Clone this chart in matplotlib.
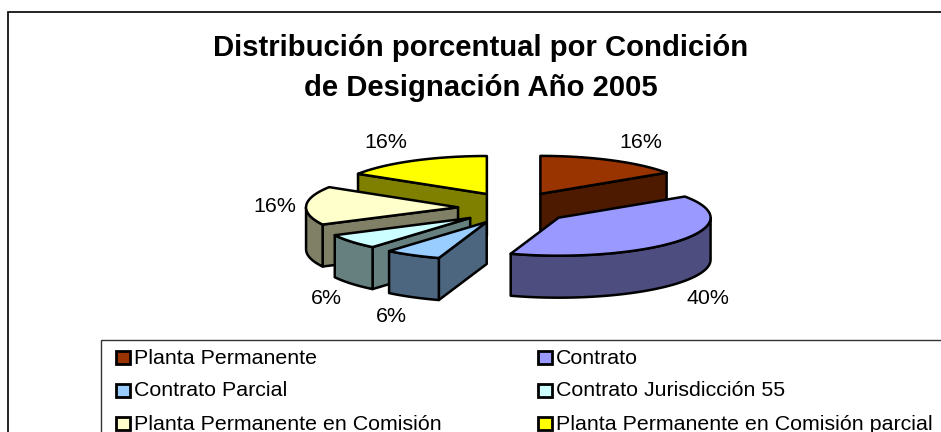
import numpy as np
import matplotlib
matplotlib.use("Agg")
import matplotlib.pyplot as plt
from matplotlib.patches import Polygon, Rectangle
from matplotlib.colors import to_rgb

# ---------- data ----------
categories = ["Planta Permanente", "Contrato", "Contrato Parcial",
              "Contrato Jurisdicción 55", "Planta Permanente en Comisión",
              "Planta Permanente en Comisión parcial"]
values = [15.6, 39.5, 6.0, 6.4, 16.4, 16.1]
colors = ["#993300", "#9999FF", "#99CCFF", "#CCFFFF", "#FFFFCC", "#FFFF00"]
title = "Distribución porcentual por Condición\nde Designación Año 2005"

# ---------- layout (pixels) ----------
W, H = 941, 432
CX, CY = 514, 208      # pie centre
RX, RY = 152, 38       # top ellipse radii
DEPTH = 42             # extrusion
EX, EY = 56, 16        # explosion distance
LABEL_POS = [(641, 143), (708, 298), (391, 317), (326, 299), (275, 206), (386, 143)]
LINE = 1.8
SANS = ["Liberation Sans", "DejaVu Sans"]

fig = plt.figure(figsize=(W / 100, H / 100), dpi=100)
ax = fig.add_axes([0, 0, 1, 1])
ax.set_xlim(0, W)
ax.set_ylim(H, 0)
ax.axis("off")

# chart frame, running off the right and bottom edges
ax.add_patch(Rectangle((8, 12), W + 20, H + 20, fc="white", ec="black", lw=1.2))


def pt(theta, cx, cy, r=1.0):
    return np.column_stack([cx + r * RX * np.sin(theta), cy - r * RY * np.cos(theta)])


total = sum(values)
bounds = np.cumsum([0] + values) / total * 2 * np.pi
slices = []
for i, col in enumerate(colors):
    a0, a1 = bounds[i], bounds[i + 1]
    mid = (a0 + a1) / 2
    slices.append((CY - EY * np.cos(mid), CX + EX * np.sin(mid), a0, a1, mid, col))

style = dict(ec="black", lw=LINE, joinstyle="round")
for cy, cx, a0, a1, mid, col in sorted(slices, key=lambda s: s[0]):
    side = tuple(c * 0.5 for c in to_rgb(col))
    apex = np.array([[cx, cy]])
    inner = pt(np.array([mid]), cx, cy, 0.5)[0]
    # flat radial walls: visible when the slice lies above the edge on screen
    for a in (a0, a1):
        corner = pt(np.array([a]), cx, cy)[0]
        ex, ey = corner - apex[0]
        t = ex if abs(ex) > 1e-6 else 1
        on_edge_y = cy + ey * (inner[0] - cx) / t
        if abs(ex) > 1e-6 and inner[1] < on_edge_y:
            wall = np.array([[cx, cy], corner, corner + [0, DEPTH], [cx, cy + DEPTH]])
            ax.add_patch(Polygon(wall, fc=side, **style))
    # curved outer wall: only the part facing the viewer
    lo, hi = max(a0, np.pi / 2), min(a1, 3 * np.pi / 2)
    if hi > lo:
        arc = pt(np.linspace(lo, hi, 80), cx, cy)
        wall = np.vstack([arc, arc[::-1] + [0, DEPTH]])
        ax.add_patch(Polygon(wall, fc=side, **style))
    # top face
    top = np.vstack([apex, pt(np.linspace(a0, a1, 120), cx, cy)])
    ax.add_patch(Polygon(top, fc=col, **style))

# percentage labels
for v, (x, y) in zip(values, LABEL_POS):
    ax.text(x, y, f"{v:.0f}%", family=SANS, fontsize=15.4, ha="center", va="center")

# title
ax.text(481, 68, title, family=SANS, fontsize=21.1, fontweight="bold",
        ha="center", va="center", linespacing=1.5)

# legend
ax.add_patch(Rectangle((101, 340), W, H, fc="white", ec="#333333", lw=1.0))
LEG_X = [116, 538]
LEG_Y = [357, 390, 423]
for i, (name, col) in enumerate(zip(categories, colors)):
    x, y = LEG_X[i % 2], LEG_Y[i // 2]
    ax.add_patch(Rectangle((x, y - 6.5), 14, 13, fc=col, ec="black", lw=2.0))
    ax.text(x + 18, y + 1, name, family=SANS, fontsize=15.4, ha="left", va="center")

fig.savefig("out.png", dpi=100)
